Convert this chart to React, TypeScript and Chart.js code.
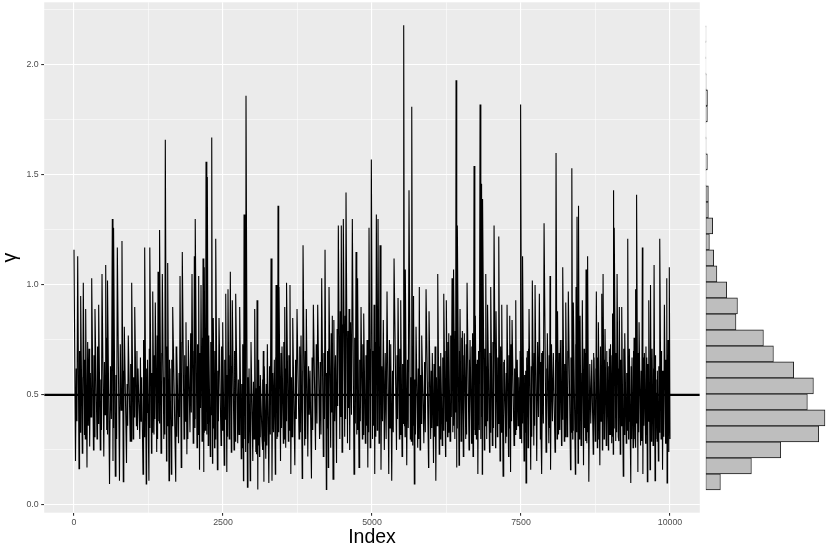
import React, { useEffect, useRef } from 'react';
import { Chart, registerables } from 'chart.js';

Chart.register(...registerables);

// ---- trace: sample index and gamma value of the main turning points ----
const traceIndex: number[] = [
  0,25,62,84,112,139,156,176,196,218,
  252,263,297,327,352,386,414,441,470,500,
  532,549,565,596,643,654,666,693,727,763,
  805,827,844,881,911,943,968,993,1019,1047,
  1074,1104,1136,1158,1186,1212,1233,1257,1275,1300,
  1321,1342,1364,1388,1410,1425,1438,1460,1482,1507,
  1532,1552,1572,1594,1611,
  1633,1656,1707,1728,1754,1779,1799,1817,1846,1879,
  1894,1918,1946,1980,2000,2019,2029,2035,2064,2092,
  2106,2131,2148,2165,2176,2186,2202,2215,2227,2237,
  2252,2265,2287,2311,2324,2337,2358,2378,2406,2433,
  2467,2495,2520,2546,2564,2584,2604,2623,2639,2656,
  2685,2713,2747,2780,2806,2831,2843,2853,2869,2886,
  2910,2937,2957,2970,3000,3032,3051,3071,3084,3101,
  3113,3126,3155,3176,3185,3193,3218,3244,3269,3306,
  3322,3361,3378,3390,3406,3423,3432,3440,3465,3490,
  3512,3536,3552,3569,3596,3624,3638,3670,3705,3742,
  3776,3809,3829,3843,3871,3898,3923,3960,3984,4016,
  4052,4089,4120,4156,4183,4212,4234,4254,4267,4279,
  4307,4334,4346,4388,4405,4435,4460,4485,4497,4519,
  4542,4564,4589,4615,4626,4670,4698,4732,4745,4761,
  4782,4816,4838,4861,4888,4917,4930,4950,4970,4989,
  5009,5034,5046,5073,5088,5101,5118,5135,5151,5190,
  5207,5252,5281,5314,5331,5370,5411,5437,5459,5482,
  5504,5532,5546,5559,5583,5621,5643,5667,5683,5700,
  5710,5739,5767,5794,5806,5834,5870,5907,5949,5957,
  5985,6012,6032,6058,6071,6103,6128,6153,6178,6204,
  6234,6247,6268,6288,6309,6343,6356,6371,6390,6410,
  6420,6432,6460,6477,6494,6516,6532,6549,6573,6595,
  6628,6645,
  6670,6687,6695,6712,6724,6734,6751,6767,6776,6813,
  6826,6841,6850,6858,6885,6909,6925,6942,6972,6992,
  7019,7048,7073,7081,7103,7127,7148,7177,7199,7221,
  7244,7266,7291,7311,7325,7350,7383,7412,7425,7462,
  7481,7496,7512,7529,7551,7579,7584,7606,7618,7635,
  7663,7690,7715,7736,7764,7808,7825,7841,7852,7887,
  7920,7942,7967,7987,7996,8043,8071,8088,8105,8117,
  8130,8160,8180,8200,8226,8251,8273,8294,8331,8353,
  8367,8378,8412,8424,8432,8440,8457,8469,8479,8491,
  8507,8529,8549,8575,8583,8591,8605,8620,8638,8687,
  8712,8726,8746,8764,8781,8798,8823,8855,8865,8877,
  8893,8910,8930,8949,8966,8982,8994,9006,9022,9039,
  9048,9056,9061,9066,9090,9112,9132,9150,9165,9190,
  9216,9241,9266,9291,9305,9318,9342,9363,9380,9397,
  9407,9419,9427,9442,9461,9481,9506,9536,9545,9570,
  9590,9610,9620,9644,9665,9677,9687,9699,9716,9733,
  9749,9766,9778,9788,9805,9828,9850,9867,9875,9906,
  9926,9946,9951,9968,9980,9990,10000,
];

const traceGamma: number[] = [
  1.16,0.20,1.13,0.165,0.95,0.235,1.01,0.32,0.89,0.17,
  0.71,0.265,1.03,0.25,0.89,0.30,0.91,0.25,1.05,0.22,
  1.09,0.34,1.02,0.095,1.30,0.20,1.26,0.13,1.17,0.11,
  1.20,0.105,0.81,0.19,0.77,0.29,1.01,0.30,0.90,0.36,
  0.62,0.30,0.58,0.14,1.17,0.095,0.66,0.11,1.17,0.235,
  0.97,0.32,0.92,0.24,1.06,0.38,1.25,0.235,1.05,0.30,
  1.66,0.20,1.10,0.11,0.62,
  0.14,0.90,0.105,0.70,0.28,1.04,0.17,1.15,0.30,0.83,
  0.23,0.75,0.33,1.05,0.28,1.13,0.35,1.30,0.26,1.04,
  0.16,1.00,0.29,1.12,0.15,1.08,0.34,1.56,0.32,1.49,
  0.27,0.77,0.22,1.67,0.19,0.85,0.26,1.21,0.16,0.85,
  0.27,0.83,0.18,0.96,0.15,0.98,0.30,1.06,0.24,0.93,
  0.25,0.96,0.28,0.90,0.21,0.73,0.11,1.32,0.30,1.86,
  0.08,0.62,0.11,0.74,0.20,0.89,0.24,0.93,0.07,0.66,
  0.22,0.59,0.30,0.70,0.105,0.63,0.21,0.73,0.10,1.12,
  0.11,0.66,0.14,1.00,0.30,1.36,0.33,0.99,0.20,0.72,
  0.28,0.90,0.26,1.01,0.29,1.00,0.14,0.85,0.18,0.89,
  0.30,0.77,0.12,1.18,0.27,0.89,0.22,0.61,0.12,0.91,
  0.25,0.91,0.30,1.03,0.22,1.16,0.07,0.70,0.17,0.99,
  0.26,0.86,0.117,0.68,0.19,1.27,0.30,1.27,0.24,1.30,
  0.31,1.42,0.28,0.89,0.25,1.30,0.14,1.15,0.32,1.03,
  0.17,0.90,0.30,0.87,0.28,0.75,0.17,1.26,0.26,1.57,
  0.30,0.91,0.14,1.32,0.34,1.30,0.28,1.18,0.16,0.84,
  0.25,0.97,0.14,0.73,0.11,1.12,0.25,0.94,0.30,0.93,
  0.22,2.18,0.36,1.07,0.18,1.43,0.30,1.81,0.27,0.95,
  0.095,0.81,0.26,0.99,0.25,0.77,0.28,0.98,0.17,0.88,
  0.30,0.69,0.19,0.72,0.11,1.05,0.23,0.69,0.27,0.96,
  0.22,0.93,0.31,0.78,0.29,1.03,0.33,1.07,0.30,1.93,
  0.17,1.27,0.18,0.89,0.29,0.79,0.22,0.78,0.30,1.01,
  0.25,0.75,
  0.28,0.78,0.22,1.54,0.34,0.86,0.30,0.66,0.14,1.82,
  0.30,1.46,0.14,1.39,0.25,1.05,0.30,0.91,0.24,0.99,
  0.27,1.27,0.26,0.88,0.31,1.22,0.20,0.91,0.13,0.66,
  0.28,0.91,0.22,0.86,0.15,0.84,0.27,0.93,0.34,0.58,
  0.30,1.82,0.28,1.13,0.20,0.61,0.10,0.70,0.26,0.89,
  0.16,1.02,0.27,1.00,0.20,0.96,0.30,0.69,0.14,1.28,
  0.24,0.78,0.28,1.04,0.16,0.69,0.24,1.60,0.30,0.88,
  0.32,0.75,0.27,1.08,0.29,0.92,0.31,0.97,0.16,1.53,
  0.30,0.92,0.14,0.99,0.33,1.31,0.19,1.36,0.30,0.86,
  0.27,0.93,0.18,0.69,0.30,1.07,0.28,1.13,0.105,0.66,
  0.23,0.67,0.29,0.97,0.26,0.83,0.18,0.96,0.25,1.05,
  0.30,0.80,0.27,0.65,0.25,0.71,0.32,0.73,0.28,0.87,
  0.23,1.43,0.35,1.26,0.29,1.05,0.31,0.90,0.23,0.90,
  0.13,0.78,0.28,1.21,0.30,0.71,0.10,0.67,0.26,0.76,
  0.30,0.98,0.26,1.41,0.15,0.83,0.27,1.17,0.14,0.69,
  0.28,0.67,0.105,0.93,0.16,1.00,0.29,0.71,0.27,1.09,
  0.11,0.51,0.30,0.61,0.20,1.21,0.30,0.61,0.16,0.91,
  0.28,1.03,0.10,0.75,0.24,1.08,0.30,
];

// ---- dense core of the trace: (upper, lower) swings between each low and the next peak ----
const traceCoreGamma: number[] = [
  0.62,0.38, 0.70,0.33, 0.58,0.42, 0.66,0.30, 0.74,0.36, 0.60,0.40, 0.68,0.31, 0.72,0.37,
  0.57,0.34, 0.65,0.41, 0.76,0.32, 0.63,0.39, 0.69,0.35, 0.59,0.30, 0.73,0.43, 0.61,0.33,
  0.55,0.36, 0.64,0.29, 0.58,0.40, 0.70,0.34, 0.67,0.38, 0.75,0.31, 0.62,0.42, 0.71,0.35,
  0.60,0.33, 0.68,0.39, 0.77,0.30, 0.63,0.37, 0.69,0.41, 0.58,0.32, 0.72,0.36, 0.66,0.40,
  0.66,0.36, 0.72,0.31, 0.60,0.40, 0.74,0.34, 0.68,0.38, 0.63,0.30, 0.78,0.42, 0.70,0.35,
  0.65,0.39, 0.73,0.32, 0.69,0.44, 0.76,0.36, 0.62,0.33, 0.80,0.40, 0.71,0.37, 0.67,0.31,
  0.74,0.41, 0.64,0.35, 0.70,0.30, 0.61,0.38, 0.72,0.34, 0.66,0.39, 0.59,0.31, 0.68,0.36,
  0.63,0.33, 0.70,0.29, 0.57,0.32, 0.55,0.26, 0.60,0.30, 0.52,0.24, 0.58,0.28, 0.50,0.25,
  0.56,0.30, 0.53,0.23, 0.59,0.27, 0.54,0.31, 0.57,0.25, 0.61,0.29, 0.55,0.27, 0.63,0.32,
  0.60,0.33, 0.67,0.37, 0.71,0.31, 0.64,0.40, 0.69,0.35, 0.74,0.30, 0.62,0.38, 0.68,0.34,
  0.58,0.31, 0.66,0.39, 0.72,0.33, 0.61,0.36, 0.70,0.30, 0.63,0.41, 0.67,0.34, 0.73,0.37,
  0.65,0.32, 0.69,0.39, 0.60,0.35, 0.71,0.31, 0.78,0.42, 0.84,0.38, 0.80,0.45, 0.88,0.40,
  0.82,0.47, 0.86,0.39, 0.79,0.44, 0.83,0.41, 0.76,0.37, 0.70,0.34, 0.66,0.38, 0.73,0.32,
  0.68,0.36, 0.62,0.33, 0.71,0.39,
  0.70,0.36, 0.74,0.31, 0.66,0.40, 0.72,0.34, 0.63,0.38, 0.69,0.30, 0.75,0.35, 0.61,0.33,
  0.68,0.39, 0.71,0.32, 0.64,0.37, 0.60,0.31, 0.66,0.35, 0.58,0.29, 0.63,0.36, 0.57,0.32,
  0.62,0.30, 0.59,0.37, 0.65,0.33, 0.56,0.29, 0.61,0.35, 0.64,0.31, 0.58,0.36, 0.63,0.30,
  0.67,0.34, 0.70,0.38, 0.74,0.33, 0.77,0.40, 0.72,0.36, 0.79,0.42, 0.75,0.35, 0.70,0.39,
  0.76,0.34, 0.68,0.37, 0.73,0.32, 0.66,0.38,
  0.72,0.35, 0.68,0.39, 0.75,0.32, 0.64,0.37, 0.70,0.34, 0.77,0.40, 0.66,0.31, 0.71,0.36,
  0.63,0.38, 0.69,0.33, 0.74,0.35, 0.61,0.30, 0.67,0.37, 0.72,0.33, 0.65,0.39, 0.60,0.31,
  0.68,0.35, 0.73,0.38, 0.62,0.32, 0.66,0.36, 0.70,0.30, 0.64,0.37, 0.59,0.33, 0.67,0.39,
  0.71,0.34, 0.63,0.31, 0.69,0.36, 0.74,0.40, 0.65,0.33, 0.70,0.37, 0.62,0.30, 0.68,0.35,
  0.73,0.38, 0.66,0.32, 0.60,0.36, 0.69,0.34, 0.75,0.39, 0.64,0.31, 0.70,0.36, 0.67,0.33,
  0.68,0.34, 0.73,0.30, 0.63,0.37, 0.70,0.33, 0.66,0.39, 0.60,0.31, 0.71,0.35, 0.65,0.29,
  0.58,0.33, 0.64,0.37, 0.69,0.31, 0.62,0.35, 0.67,0.30, 0.72,0.38, 0.61,0.34, 0.66,0.30,
  0.70,0.36, 0.63,0.32, 0.59,0.37, 0.68,0.31, 0.73,0.35, 0.64,0.39, 0.69,0.33, 0.62,0.29,
  0.66,0.36, 0.71,0.32, 0.60,0.34, 0.67,0.38, 0.63,0.30, 0.70,0.35, 0.58,0.31, 0.65,0.37,
  0.69,0.33, 0.61,0.29, 0.67,0.36, 0.72,0.32, 0.64,0.38, 0.59,0.30, 0.66,0.34, 0.62,0.31,
  0.68,0.36, 0.57,0.29, 0.63,0.33, 0.70,0.37, 0.61,0.31, 0.66,0.35, 0.60,0.30, 0.64,0.34,
];

// reference line
const refLineValue = 0.5;

// ---- marginal histogram (bin centres, counts) ----
const histBinCenters: number[] = [
  0.1045, 0.1773, 0.2500, 0.3227, 0.3955, 0.4682, 0.5409, 0.6136, 0.6864, 0.7591,
  0.8318, 0.9045, 0.9773, 1.0500, 1.1227, 1.1955, 1.2682, 1.3409, 1.4136, 1.4864,
  1.5591, 1.6318, 1.7045, 1.7773, 1.8500, 1.9227, 1.9955, 2.0682, 2.1409,
];
const histCounts: number[] = [
  160, 498, 818, 1232, 1300, 1108, 1174, 959, 738, 629,
  330, 346, 229, 122, 87, 40, 76, 29, 29, 4,
  18, 4, 3, 18, 19, 5, 2, 2, 3,
];

// ---- axes ----
const xMin = -500;
const xMax = 10500;
const yMin = -0.0355;
const yMax = 2.2845;
const xMajorTicks = [0, 2500, 5000, 7500, 10000];
const xTickLabels = ['0', '2500', '5000', '7500', '10000'];
const xMinorTicks = [1250, 3750, 6250, 8750];
const yMajorTicks = [0, 0.5, 1, 1.5, 2];
const yTickLabels = ['0.0', '0.5', '1.0', '1.5', '2.0'];
const yMinorTicks = [0.25, 0.75, 1.25, 1.75, 2.25];
const histCountMax = 1355;

const FONT = '"Liberation Sans", Arial, Helvetica, sans-serif';

const panelBg = {
  id: 'panelBg',
  beforeDraw(chart: any) {
    const { ctx, chartArea } = chart;
    ctx.save();
    ctx.fillStyle = '#EBEBEB';
    ctx.fillRect(chartArea.left, chartArea.top, chartArea.right - chartArea.left, chartArea.bottom - chartArea.top);
    ctx.restore();
  },
};

function buildTicks(major: number[], minor: number[]) {
  return [...major, ...minor].sort((a, b) => a - b).map((v) => ({ value: v }));
}

export default function App() {
  const mainRef = useRef<HTMLCanvasElement>(null);
  const histRef = useRef<HTMLCanvasElement>(null);

  useEffect(() => {
    const n = Math.min(traceIndex.length, traceGamma.length);
    const tracePts: { x: number; y: number }[] = [];
    for (let i = 0; i < n; i++) {
      tracePts.push({ x: traceIndex[i], y: traceGamma[i] });
      // after each low, the trace swings inside the core band before the next peak
      const k = (i - 1) / 2;
      if (i % 2 === 1 && i + 1 < n && 2 * k + 1 < traceCoreGamma.length) {
        const a = traceIndex[i];
        const b = traceIndex[i + 1];
        tracePts.push({ x: a + (b - a) / 3, y: traceCoreGamma[2 * k] });
        tracePts.push({ x: a + (2 * (b - a)) / 3, y: traceCoreGamma[2 * k + 1] });
      }
    }

    const isMajorX = (v: number) => xMajorTicks.includes(v);
    const isMajorY = (v: number) => yMajorTicks.some((m) => Math.abs(m - v) < 1e-9);

    const main = new Chart(mainRef.current as HTMLCanvasElement, {
      type: 'line',
      data: {
        datasets: [
          {
            data: [
              { x: xMin, y: refLineValue },
              { x: xMax, y: refLineValue },
            ],
            borderColor: '#000000',
            borderWidth: 2.2,
            pointRadius: 0,
            tension: 0,
          },
          {
            data: tracePts,
            borderColor: '#000000',
            borderWidth: 1.1,
            pointRadius: 0,
            tension: 0,
          },
        ],
      },
      options: {
        animation: false,
        responsive: false,
        events: [],
        layout: { padding: { left: 0, top: 2.3, right: 130.2, bottom: 0 } },
        plugins: { legend: { display: false }, tooltip: { enabled: false } },
        scales: {
          x: {
            type: 'linear',
            min: xMin,
            max: xMax,
            afterBuildTicks: (s: any) => {
              s.ticks = buildTicks(xMajorTicks, xMinorTicks);
            },
            afterFit: (s: any) => {
              s.height = 38.3;
              s.paddingLeft = 0;
              s.paddingRight = 0;
            },
            border: { display: false },
            grid: {
              color: '#FFFFFF',
              lineWidth: (c: any) => (c.tick && isMajorX(c.tick.value) ? 1.1 : 0.55),
              tickLength: 3,
              tickWidth: 1.1,
              tickColor: (c: any) => (c.tick && isMajorX(c.tick.value) ? '#333333' : 'rgba(0,0,0,0)'),
            },
            ticks: {
              autoSkip: false,
              maxRotation: 0,
              minRotation: 0,
              padding: 2,
              color: '#4D4D4D',
              font: { family: FONT, size: 8.8 },
              callback: (v: any) => {
                const i = xMajorTicks.indexOf(Number(v));
                return i >= 0 ? xTickLabels[i] : '';
              },
            },
            title: {
              display: true,
              text: 'Index',
              color: '#000000',
              font: { family: FONT, size: 19.5, lineHeight: 1.2 },
              padding: { top: 0, bottom: 1.2 },
            },
          },
          y: {
            type: 'linear',
            min: yMin,
            max: yMax,
            afterBuildTicks: (s: any) => {
              s.ticks = buildTicks(yMajorTicks, yMinorTicks);
            },
            afterFit: (s: any) => {
              s.width = 44.2;
              s.paddingTop = 0;
              s.paddingBottom = 0;
            },
            border: { display: false },
            grid: {
              color: '#FFFFFF',
              lineWidth: (c: any) => (c.tick && isMajorY(c.tick.value) ? 1.1 : 0.55),
              tickLength: 3,
              tickWidth: 1.1,
              tickColor: (c: any) => (c.tick && isMajorY(c.tick.value) ? '#333333' : 'rgba(0,0,0,0)'),
            },
            ticks: {
              autoSkip: false,
              padding: 2.5,
              color: '#4D4D4D',
              font: { family: FONT, size: 8.8 },
              callback: (v: any) => {
                const i = yMajorTicks.findIndex((m) => Math.abs(m - Number(v)) < 1e-9);
                return i >= 0 ? yTickLabels[i] : '';
              },
            },
            title: {
              display: true,
              text: 'γ',
              color: '#000000',
              font: { family: FONT, size: 19.5, lineHeight: 1.1 },
              padding: { top: 0, bottom: 0 },
            },
          },
        },
      },
      plugins: [panelBg],
    } as any);

    const histData = histBinCenters.map((c, i) => ({ x: histCounts[i], y: c }));
    const hist = new Chart(histRef.current as HTMLCanvasElement, {
      type: 'bar',
      data: {
        datasets: [
          {
            data: histData,
            backgroundColor: '#BEBEBE',
            borderColor: '#1A1A1A',
            borderWidth: 0.9,
            borderSkipped: false,
            categoryPercentage: 1,
            barPercentage: 1,
          },
        ],
      },
      options: {
        indexAxis: 'y',
        animation: false,
        responsive: false,
        events: [],
        layout: { padding: { left: 5.7, top: 2.3, right: 0, bottom: 38.3 } },
        plugins: { legend: { display: false }, tooltip: { enabled: false } },
        scales: {
          x: { type: 'linear', min: 0, max: histCountMax, display: false },
          y: {
            type: 'linear',
            min: yMin,
            max: yMax,
            offset: false,
            display: false,
            afterBuildTicks: (s: any) => {
              s.ticks = yMajorTicks.map((v) => ({ value: v }));
            },
          },
        },
      },
    } as any);

    return () => {
      main.destroy();
      hist.destroy();
    };
  }, []);

  return (
    <div style={{ position: 'fixed', left: 0, top: 0, width: 830, height: 551, background: '#FFFFFF' }}>
      <canvas ref={mainRef} width={830} height={551} style={{ position: 'absolute', left: 0, top: 0 }} />
      <canvas ref={histRef} width={130} height={551} style={{ position: 'absolute', left: 700, top: 0 }} />
    </div>
  );
}
